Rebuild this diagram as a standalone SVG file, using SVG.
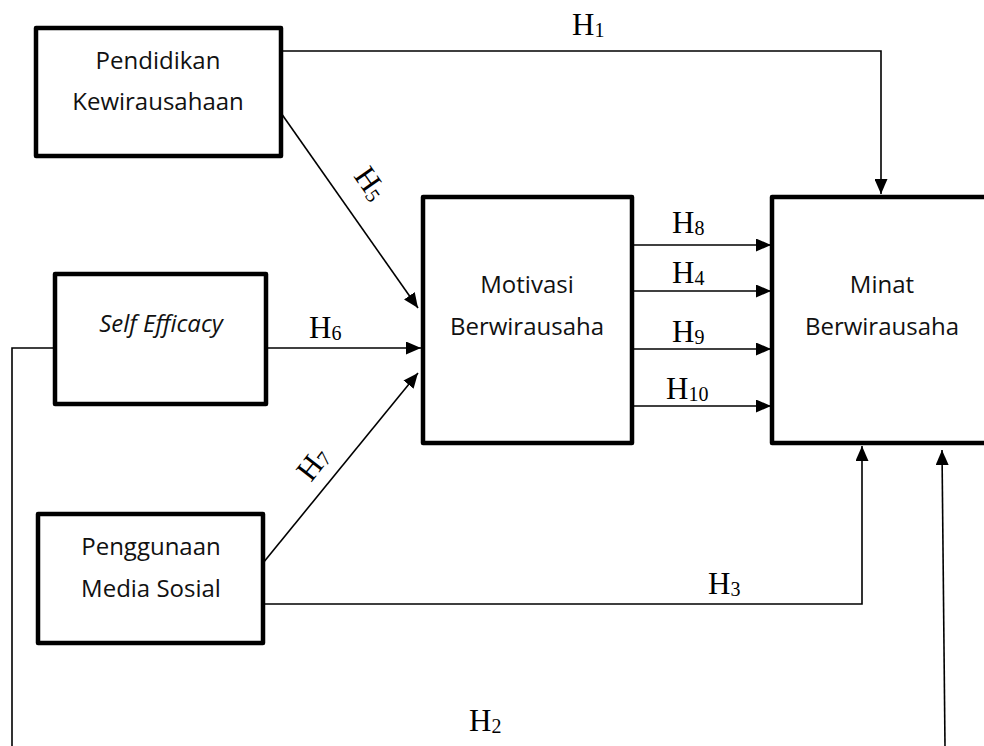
<svg xmlns="http://www.w3.org/2000/svg" width="984" height="746" viewBox="0 0 984 746">
<style>
.box{fill:#fff;stroke:#000;stroke-width:4.5;stroke-linejoin:round}
.t{font-family:"Open Sans","Liberation Sans",sans-serif;font-size:24px;fill:#111;text-anchor:middle}
.ti{font-style:italic}
.c{fill:none;stroke:#000;stroke-width:1.6}
.h{font-family:"Liberation Serif","Times New Roman",serif;font-size:31px;fill:#000}
.s{font-size:20px}
</style>
<defs>
<marker id="ah" viewBox="0 0 15 13" refX="15" refY="6.5" markerWidth="15" markerHeight="13" markerUnits="userSpaceOnUse" orient="auto">
<path d="M0,0 L15,6.5 L0,13 Z" fill="#000"/>
</marker>
</defs>
<rect width="984" height="746" fill="#fff"/>
<g id="connectors">
<path class="c" d="M281,51 H881 V194" marker-end="url(#ah)"/>
<path class="c" d="M281,113 L418,308" marker-end="url(#ah)"/>
<path class="c" d="M266,348 H421" marker-end="url(#ah)"/>
<path class="c" d="M263,563 L418,373" marker-end="url(#ah)"/>
<path class="c" d="M634,245 H771" marker-end="url(#ah)"/>
<path class="c" d="M634,291 H771" marker-end="url(#ah)"/>
<path class="c" d="M634,349 H771" marker-end="url(#ah)"/>
<path class="c" d="M634,406 H771" marker-end="url(#ah)"/>
<path class="c" d="M263,604 H862 V446" marker-end="url(#ah)"/>
<path class="c" d="M55,348 H12 V746"/>
<path class="c" d="M945,746 L942,450" marker-end="url(#ah)"/>
</g>
<g id="labels">
<text class="h" x="572" y="35">H<tspan class="s" dy="2">1</tspan></text>
<text class="h" x="672" y="233">H<tspan class="s" dy="2">8</tspan></text>
<text class="h" x="672" y="283">H<tspan class="s" dy="2">4</tspan></text>
<text class="h" x="672" y="342">H<tspan class="s" dy="2">9</tspan></text>
<text class="h" x="666" y="399">H<tspan class="s" dy="2">10</tspan></text>
<text class="h" x="309" y="338">H<tspan class="s" dy="2">6</tspan></text>
<text class="h" x="708" y="594">H<tspan class="s" dy="2">3</tspan></text>
<text class="h" x="469" y="731">H<tspan class="s" dy="2">2</tspan></text>
<text class="h" transform="translate(353,176) rotate(55)">H<tspan class="s" dy="2">5</tspan></text>
<text class="h" transform="translate(311,483) rotate(-52)">H<tspan class="s" dy="2">7</tspan></text>
</g>
<g id="pendidikan">
<rect class="box" x="36" y="28" width="245" height="128"/>
<text class="t" x="158" y="69">Pendidikan</text>
<text class="t" x="158" y="110">Kewirausahaan</text>
</g>
<g id="self-efficacy">
<rect class="box" x="55" y="274" width="211" height="130"/>
<text class="t ti" x="161" y="332">Self Efficacy</text>
</g>
<g id="penggunaan">
<rect class="box" x="38" y="514" width="225" height="129"/>
<text class="t" x="151" y="555">Penggunaan</text>
<text class="t" x="151" y="597">Media Sosial</text>
</g>
<g id="motivasi">
<rect class="box" x="423" y="197" width="209" height="246"/>
<text class="t" x="527" y="293">Motivasi</text>
<text class="t" x="527" y="335">Berwirausaha</text>
</g>
<g id="minat">
<rect class="box" x="772" y="197" width="222" height="246"/>
<text class="t" x="882" y="293">Minat</text>
<text class="t" x="882" y="335">Berwirausaha</text>
</g>
</svg>
